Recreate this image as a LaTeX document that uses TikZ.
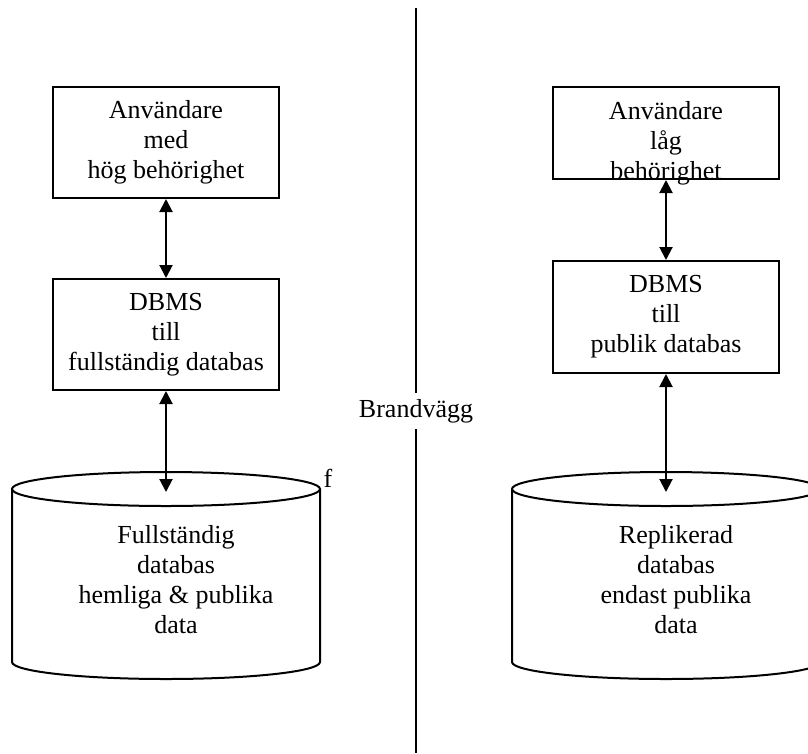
\documentclass[tikz,border=0pt]{standalone}
\usepackage{fontspec}
\setmainfont{Liberation Serif}
\usetikzlibrary{arrows.meta,positioning,calc}
\tikzset{>={Triangle[width=13pt,length=13pt]},
         box/.style={draw, line width=2pt, minimum width=226, align=center},
         link/.style={<->, line width=2pt},
         txt/.style={align=center, inner sep=0pt}}

\begin{document}
\begin{tikzpicture}[x=1pt, y=-1pt, font=\fontsize{26}{30}\selectfont]
  \useasboundingbox (0,0) rectangle (808,753);
  % left side
  \node (usrL) [box, minimum height=111] at (166,142.5)
       {Användare\\med\\hög behörighet};
  \node (dbmsL) [box, minimum height=111] at (166,334.5)
       {DBMS\\till\\fullständig databas};
  \draw[line width=2pt] (12,489) -- (12,662)
       arc[start angle=180, end angle=0, x radius=154, y radius=17]
       -- (320,489);
  \draw[line width=2pt] (166,489) ellipse [x radius=154, y radius=17];
  \coordinate (cylL) at (166,492);
  \node (dataL) [txt] at (176,580)
       {Fullständig\\databas\\hemliga \& publika\\data};
  \node (fmark) [txt] at (328,478) {f};
  % right side
  \node (usrR) [box, minimum height=92] at (666,133) {};
  \node (usrRtxt) [txt] at (666,143) {Användare\\låg\\behörighet};
  \node (dbmsR) [box, minimum height=112] at (666,317)
       {DBMS\\till\\publik databas};
  \draw[line width=2pt] (512,489) -- (512,662)
       arc[start angle=180, end angle=0, x radius=154, y radius=17]
       -- (820,489);
  \draw[line width=2pt] (666,489) ellipse [x radius=154, y radius=17];
  \coordinate (cylR) at (666,492);
  \node (dataR) [txt] at (676,580)
       {Replikerad\\databas\\endast publika\\data};
  % connectors
  \draw[link] (usrL) -- (dbmsL);
  \draw[link] (dbmsL) -- (cylL);
  \draw[link] (usrR) -- (dbmsR);
  \draw[link] (dbmsR) -- (cylR);
  % firewall
  \node (fw) [inner sep=6pt] at (416,411) {Brandvägg};
  \coordinate (wallTop) at (416,8);
  \coordinate (wallBot) at (416,753);
  \draw[line width=2pt] (wallTop) -- (fw.north);
  \draw[line width=2pt] (fw.south) -- (wallBot);
\end{tikzpicture}
\end{document}
